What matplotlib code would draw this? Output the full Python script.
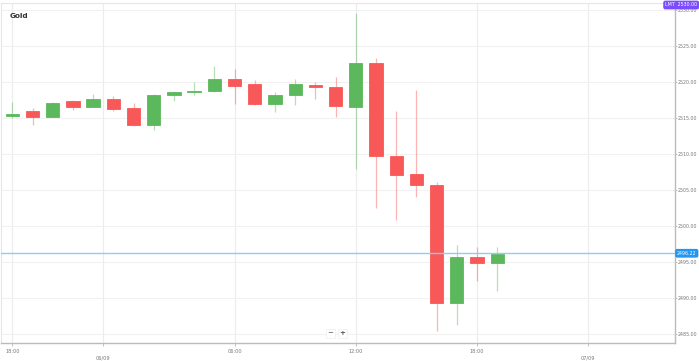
import matplotlib
matplotlib.use("Agg")
import matplotlib.pyplot as plt

# ---- data ----
opens  = [2515.3, 2516.0, 2515.2, 2517.4, 2516.6, 2517.7, 2516.35, 2514.1, 2518.15, 2518.6,
          2518.8, 2520.5, 2519.7, 2516.9, 2518.2, 2519.6, 2519.3, 2516.6, 2522.7, 2509.7,
          2507.2, 2505.7, 2489.3, 2495.7, 2494.9]
highs  = [2517.3, 2516.4, 2517.2, 2517.5, 2518.4, 2518.1, 2517.1, 2518.4, 2518.8, 2520.0,
          2522.2, 2521.8, 2520.3, 2518.65, 2520.4, 2520.0, 2520.7, 2529.6, 2523.4, 2516.0,
          2518.9, 2506.1, 2497.3, 2497.1, 2497.1]
lows   = [2515.0, 2514.1, 2515.2, 2516.1, 2516.6, 2516.0, 2513.9, 2513.4, 2517.4, 2518.2,
          2518.7, 2517.0, 2516.8, 2515.9, 2516.8, 2517.6, 2515.2, 2508.0, 2502.5, 2500.8,
          2504.0, 2485.4, 2486.2, 2492.4, 2491.0]
closes = [2515.6, 2515.2, 2517.1, 2516.6, 2517.7, 2516.3, 2514.1, 2518.15, 2518.7, 2518.8,
          2520.4, 2519.5, 2516.9, 2518.2, 2519.7, 2519.3, 2516.7, 2522.7, 2509.7, 2507.1,
          2505.7, 2489.3, 2495.7, 2494.8, 2496.1]
current_price = 2496.22
limit_price = 2530.00
y_ticks = [2485, 2490, 2495, 2500, 2505, 2510, 2515, 2520, 2525, 2530]
hour_tick_pos = [0, 11, 17, 23]
hour_tick_labels = ["18:00", "06:00", "12:00", "18:00"]
date_tick_pos = [4.5, 28.5]
date_tick_labels = ["06/09", "07/09"]

GREEN = "#5cb85c"
RED = "#f95858"

fig = plt.figure(figsize=(6.99, 3.61), dpi=100)
ax = fig.add_axes([1/699, 18/361, 674/699, 340/361])

x = list(range(len(opens)))
for i, o, h, l, c in zip(x, opens, highs, lows, closes):
    col = GREEN if c >= o else RED
    ax.vlines(i, l, h, color=col, alpha=0.45, linewidth=0.9, zorder=3)
    lo, hi = min(o, c), max(o, c)
    if hi - lo < 0.15:
        hi = lo + 0.15
    ax.bar(i, hi - lo, bottom=lo, width=0.66, color=col, edgecolor=col,
           linewidth=0.6, zorder=4)

ax.set_xlim(-0.56, 32.8)
ax.set_ylim(2483.75, 2531.0)

# grid
for yv in y_ticks:
    ax.axhline(yv, color="#f1f1f1", linewidth=0.8, zorder=0)
for xv in hour_tick_pos + date_tick_pos:
    ax.axvline(xv, color="#ececec", linewidth=0.8, zorder=0)

# current price line
ax.axhline(current_price, color="#8fcdf2", linewidth=1.0, zorder=5)

ax.yaxis.tick_right()
ax.set_yticks(y_ticks)
ax.set_yticklabels([f"{v:.2f}" for v in y_ticks], fontsize=3.4, color="#777777")
ax.tick_params(axis="y", length=1.5, width=0.5, color="#aaaaaa", pad=0.6)

ax.set_xticks(hour_tick_pos + date_tick_pos)
ax.set_xticklabels(hour_tick_labels + date_tick_labels, fontsize=3.6, color="#777777")
ax.tick_params(axis="x", length=2, width=0.5, color="#aaaaaa", pad=2)
for lab, pos in zip(ax.get_xticklabels(), hour_tick_pos + date_tick_pos):
    if pos in date_tick_pos:
        lab.set_y(-0.02)

for s in ["left", "top"]:
    ax.spines[s].set_color("#e6e6e6")
    ax.spines[s].set_linewidth(0.8)
for s in ["right", "bottom"]:
    ax.spines[s].set_color("#bbbbbb")
    ax.spines[s].set_linewidth(1.0)

ax.text(0.013, 0.972, "Gold", transform=ax.transAxes, fontsize=5.2,
        fontweight="bold", color="#333333", va="top", ha="left")

# price labels on right axis
ax.text(1.003, current_price, f"{current_price:.2f}", transform=ax.get_yaxis_transform(),
        fontsize=3.4, color="white", va="center", ha="left", zorder=10, clip_on=False,
        bbox=dict(boxstyle="round,pad=0.25,rounding_size=0.3", fc="#2196f3", ec="#2196f3"))
fig.text(0.9975, (361 - 5) / 361, f"LMT  {limit_price:.2f}", fontsize=3.4, color="white",
         va="center", ha="right", zorder=10,
         bbox=dict(boxstyle="round,pad=0.25,rounding_size=0.3", fc="#7c4dff", ec="#7c4dff"))

# zoom buttons
ax.text(0.489, 0.028, "−", transform=ax.transAxes, fontsize=5, color="#555555",
        ha="center", va="center", zorder=10,
        bbox=dict(boxstyle="square,pad=0.25", fc="white", ec="#eeeeee", lw=0.5))
ax.text(0.507, 0.028, "+", transform=ax.transAxes, fontsize=5, color="#555555",
        ha="center", va="center", zorder=10, fontweight="bold",
        bbox=dict(boxstyle="square,pad=0.25", fc="white", ec="#eeeeee", lw=0.5))

fig.savefig("out.png", dpi=100)
